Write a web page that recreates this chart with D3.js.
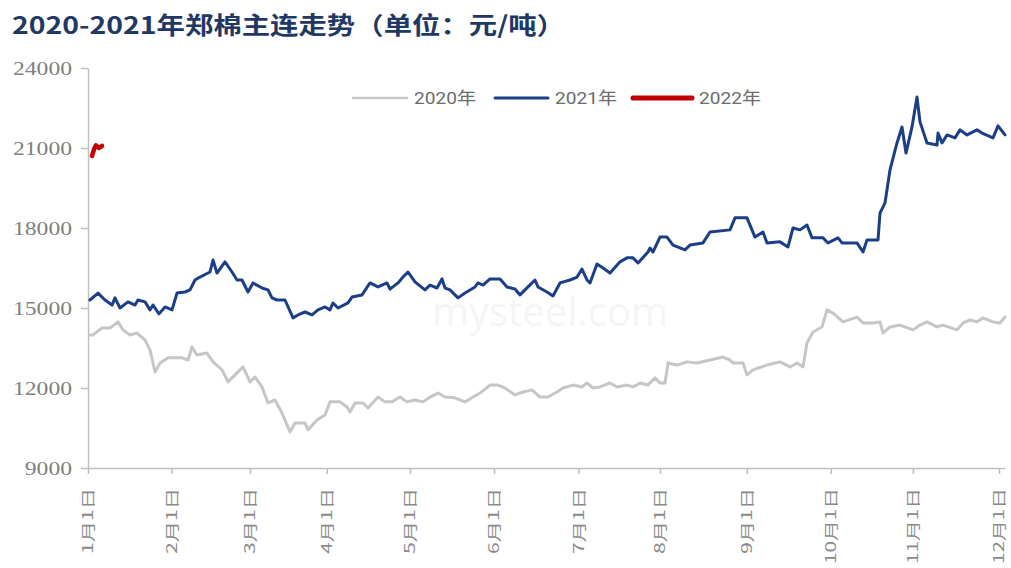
<!DOCTYPE html>
<html><head><meta charset="utf-8">
<script src="https://cdn.jsdelivr.net/npm/d3@7"></script>
<style>
html,body{margin:0;padding:0;background:#fff;}
svg{display:block;}
</style></head>
<body>
<svg id="chart" width="1011" height="568"></svg>
<script>
const titleText = "2020-2021年郑棉主连走势（单位：元/吨）";
const seriesNames = ["2020年", "2021年", "2022年"];
const yTicks = [9000, 12000, 15000, 18000, 21000, 24000];
const xTickLabels = ["1月1日","2月1日","3月1日","4月1日","5月1日","6月1日","7月1日","8月1日","9月1日","10月1日","11月1日","12月1日"];
const xTickDays = [0, 20.9, 40.5, 59.7, 80.5, 101.5, 122.6, 143, 164.7, 185.7, 206.2, 227.75];

const days2020 = [0.5,1.25,3.5,5.5,7.5,8.75,10.5,12.25,14.25,15.5,16.75,18,20,23.5,25,26,27.25,29.75,31.25,33.5,35,36.75,38.75,40.5,41.75,43.5,45,46.75,48.5,50.5,51.75,54.25,55,57.25,59.25,60.5,63,64.75,65.5,66.75,68.75,70,72.5,74.25,76,78,79.75,81.75,83.75,85.5,87.5,89.25,91.75,94.25,96.25,98,100.5,102.5,104.25,106.75,108.75,111,113,115,117.25,118.75,121.25,123.5,124.75,126.25,128,130.5,132.25,134.75,136.25,138,140,141.75,143,144.25,145,147.25,149.75,152.25,155.5,158.75,160.5,161.25,163.75,164.75,166.25,169.75,173,175.5,177.25,178.75,179.75,181.25,183.5,184.75,186.25,188.75,192.25,193.75,196.25,198,198.75,200.5,203,206.25,208,209.75,212.25,213.75,217.25,218.75,220.5,222.25,223.75,226.25,228,229.25];
const price2020 = [13990,13990,14250,14250,14480,14180,13990,14060,13800,13430,12600,12940,13130,13130,13050,13540,13240,13310,12980,12680,12230,12490,12790,12230,12410,12040,11440,11550,11060,10350,10690,10690,10430,10800,10990,11480,11480,11290,11100,11440,11440,11250,11660,11480,11480,11660,11480,11550,11480,11660,11810,11660,11630,11480,11660,11810,12110,12110,12000,11740,11850,11930,11660,11660,11850,12000,12110,12040,12190,12000,12040,12190,12040,12110,12040,12190,12110,12380,12190,12190,12940,12860,12980,12940,13050,13160,13050,12940,12940,12490,12680,12860,12980,12790,12940,12790,13690,14100,14290,14930,14810,14480,14660,14440,14440,14480,14060,14290,14360,14180,14360,14480,14290,14360,14180,14440,14550,14480,14630,14480,14440,14660];

const days2021 = [0.5,2.5,4.25,6,6.75,8,10,11.75,12.5,14.25,15.5,16.25,17.75,19.25,21,22.25,24.25,25.5,26.75,28,30.5,31.25,32.25,34.25,36,37.25,38.5,40,41.25,43.5,45,46,47.25,49.25,51.25,52.5,54.25,56,57.5,59.25,60.5,61.25,62.5,65,66,68.5,70.5,72.5,74.75,75.5,77.5,78.75,80,81.75,84.25,85.5,87.25,88.5,89.25,90.5,92.5,94.25,96.75,97.5,98.75,100.5,103,104.75,106.75,108,110,111.75,112.5,114.75,116.25,118,120.5,122.25,123.5,124.75,125.5,127.25,128.75,130.5,133,134.75,136.25,137.5,140,140.5,141.25,143,144.75,146.25,149.25,150.5,153.75,155.5,160.5,161.75,164.75,166.75,168.75,169.75,173,175,176.25,178,179.75,181,183.75,185,187.5,188.5,192.25,193.75,194.75,197.5,198,199.25,200.5,202.25,203.5,204.5,206,207.25,208,209.75,212.25,212.5,213.5,214.75,216.75,218,219.75,222.25,223.5,226.25,227.5,229.25];
const price2021 = [15300,15560,15300,15110,15380,15000,15230,15110,15300,15230,14930,15110,14780,15040,14930,15560,15600,15680,16050,16160,16350,16800,16310,16730,16350,16050,16050,15600,15940,15750,15680,15380,15300,15300,14630,14740,14850,14740,14930,15040,14930,15190,15000,15190,15410,15490,15940,15790,15940,15710,15940,16160,16350,15980,15680,15860,15750,16090,15750,15680,15380,15560,15790,15940,15860,16090,16090,15790,15710,15490,15790,16050,15790,15600,15450,15940,16050,16160,16460,16050,15940,16650,16500,16310,16730,16880,16880,16690,17100,17250,17100,17660,17660,17360,17180,17360,17440,17850,17930,18380,18380,17660,17850,17440,17480,17290,18000,17930,18110,17630,17630,17440,17630,17440,17440,17100,17550,17550,18560,18940,20180,21190,21790,20810,21790,22910,21980,21190,21110,21560,21190,21490,21380,21680,21490,21680,21560,21380,21830,21490];

const days2022 = [1, 1.5, 2, 2.75, 3.5];
const price2022 = [20700, 20950, 21100, 21000, 21080];

const colors = ["#c6c6c6", "#1b3f87", "#c00000"];
const widths = [3, 3, 4.5];

const svg = d3.select("#chart");
const mLeft = 88, mRight = 1005, mTop = 68, mBottom = 468;

const x = d3.scaleLinear().domain([0, 229.25]).range([mLeft, mRight]);
const y = d3.scaleLinear().domain([9000, 24000]).range([mBottom, mTop]);

// title
svg.append("text")
  .attr("x", 12).attr("y", 34)
  .attr("font-family", "'Noto Sans CJK SC', sans-serif")
  .attr("font-weight", "bold")
  .attr("font-size", 24)
  .attr("fill", "#1f3864")
  .attr("textLength", 553)
  .attr("lengthAdjust", "spacingAndGlyphs")
  .text(titleText);

// watermark
svg.append("text")
  .attr("x", 550).attr("y", 326)
  .attr("text-anchor", "middle")
  .attr("font-family", "'Open Sans', sans-serif")
  .attr("font-size", 40)
  .attr("fill", "#f5f5f5")
  .text("mysteel.com");

// y axis
const yAxis = svg.append("g")
  .attr("transform", `translate(${mLeft},0)`)
  .call(d3.axisLeft(y).tickValues(yTicks).tickSize(7).tickSizeOuter(0).tickPadding(9).tickFormat(d => d));
yAxis.select(".domain").attr("stroke", "#bfbfbf").attr("stroke-width", 1.5);
yAxis.selectAll(".tick line").attr("stroke", "#bfbfbf").attr("stroke-width", 1.5);
yAxis.selectAll(".tick text")
  .attr("font-family", "'Liberation Serif', serif")
  .attr("font-size", 19)
  .attr("fill", "#808080")
  .attr("textLength", d => String(d).length * 11.8)
  .attr("lengthAdjust", "spacingAndGlyphs");

// x axis
const xAxis = svg.append("g")
  .attr("transform", `translate(0,${mBottom})`)
  .call(d3.axisBottom(x).tickValues(xTickDays).tickSize(6).tickSizeOuter(0)
        .tickFormat((d, i) => xTickLabels[i]));
xAxis.select(".domain").attr("stroke", "#bfbfbf").attr("stroke-width", 1.5);
xAxis.selectAll(".tick line").attr("stroke", "#bfbfbf").attr("stroke-width", 1.5);
xAxis.selectAll(".tick text")
  .attr("transform", "rotate(-90)")
  .attr("x", -20).attr("y", 0).attr("dy", "0.35em")
  .style("text-anchor", "end")
  .attr("font-family", "'Noto Sans CJK SC', sans-serif")
  .attr("font-size", 14)
  .attr("fill", "#8a8a8a")
  .attr("textLength", (d, i) => xTickLabels[i].length === 4 ? 66 : 76)
  .attr("lengthAdjust", "spacingAndGlyphs");

// lines
const line = d3.line().x(d => x(d[0])).y(d => y(d[1])).curve(d3.curveLinear);
const series = [
  d3.zip(days2020, price2020),
  d3.zip(days2021, price2021),
  d3.zip(days2022, price2022)
];
series.forEach((s, i) => {
  svg.append("path")
    .datum(s)
    .attr("d", line)
    .attr("fill", "none")
    .attr("stroke", colors[i])
    .attr("stroke-width", widths[i])
    .attr("stroke-linejoin", "round")
    .attr("stroke-linecap", "round");
});

// legend
const legendX = [353, 495, 633];
const legendLen = [54, 53, 59];
const legY = 98;
const lg = svg.append("g");
seriesNames.forEach((n, i) => {
  lg.append("line")
    .attr("x1", legendX[i]).attr("x2", legendX[i] + legendLen[i])
    .attr("y1", legY).attr("y2", legY)
    .attr("stroke", colors[i])
    .attr("stroke-width", [2.5, 3, 5][i])
    .attr("stroke-linecap", "round");
  lg.append("text")
    .attr("x", legendX[i] + legendLen[i] + 7)
    .attr("y", legY).attr("dy", "0.36em")
    .attr("font-family", "Roboto, 'Noto Sans CJK SC', sans-serif")
    .attr("font-size", 17)
    .attr("fill", "#6b6b6b")
    .attr("textLength", 62)
    .attr("lengthAdjust", "spacingAndGlyphs")
    .text(n);
});
</script>
</body></html>
